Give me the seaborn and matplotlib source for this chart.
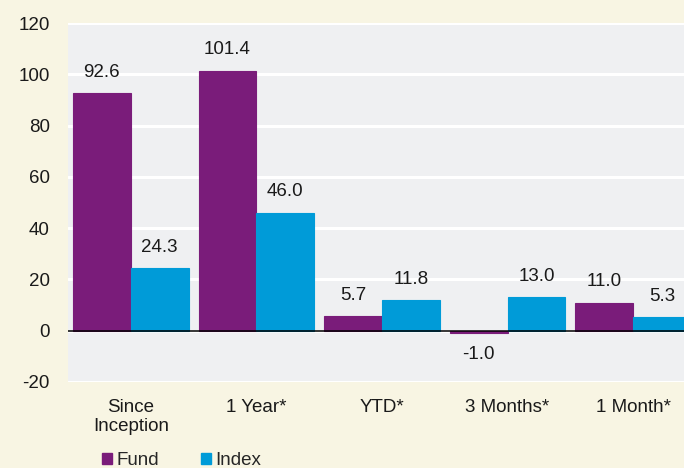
import matplotlib
matplotlib.use("Agg")
import matplotlib.pyplot as plt
import seaborn as sns
import pandas as pd
from matplotlib.patches import Patch

# 数据
categories = ["Since\nInception", "1 Year*", "YTD*", "3 Months*", "1 Month*"]
fund = [92.6, 101.4, 5.7, -1.0, 11.0]
index = [24.3, 46.0, 11.8, 13.0, 5.3]
series = ["Fund", "Index"]
colors = ["#7a1c7a", "#009bd8"]

df = pd.DataFrame({
    "category": categories * 2,
    "value": fund + index,
    "series": [series[0]] * len(fund) + [series[1]] * len(index),
})

sns.set_theme(style="darkgrid")
plt.rcParams["font.family"] = ["Liberation Sans", "DejaVu Sans"]
plt.rcParams["axes.unicode_minus"] = False

fig = plt.figure(figsize=(6.84, 4.68), dpi=100, facecolor="#f8f5e3")
ax = fig.add_axes([68 / 684, 86 / 468, 628 / 684, 359 / 468])
ax.set_facecolor("#eff0f2")

sns.barplot(data=df, x="category", y="value", hue="series", order=categories,
            hue_order=series, palette=colors, width=0.92, ax=ax,
            errorbar=None, legend=False, linewidth=0.8, saturation=1)

for cont, col in zip(ax.containers, colors):
    for p in cont:
        p.set_edgecolor(col)
    ax.bar_label(cont, fmt="%.1f", padding=9, fontsize=13.5, color="#1a1a1a")

ax.axhline(0, color="black", lw=1.1, zorder=3)
ax.set_ylim(-20, 120)
ax.set_xlim(-0.5, 4.5)
ax.set_yticks(range(-20, 121, 20))
ax.grid(axis="y", color="white", lw=2.2)
ax.grid(axis="x", visible=False)
ax.set_xlabel("")
ax.set_ylabel("")
ax.tick_params(axis="y", labelsize=13.5, pad=13, length=0, colors="#1a1a1a")
ax.tick_params(axis="x", labelsize=13.5, pad=12, length=0, colors="#1a1a1a")
for s in ax.spines.values():
    s.set_visible(False)

handles = [Patch(facecolor=c, edgecolor=c, label=s) for s, c in zip(series, colors)]
fig.legend(handles=handles, loc="center left", bbox_to_anchor=(0.124, 0.015),
           ncol=2, frameon=False, fontsize=13.5, handlelength=0.55, handleheight=0.55,
           handletextpad=0.25, columnspacing=2.2)

fig.savefig("out.png", dpi=100, facecolor=fig.get_facecolor())
